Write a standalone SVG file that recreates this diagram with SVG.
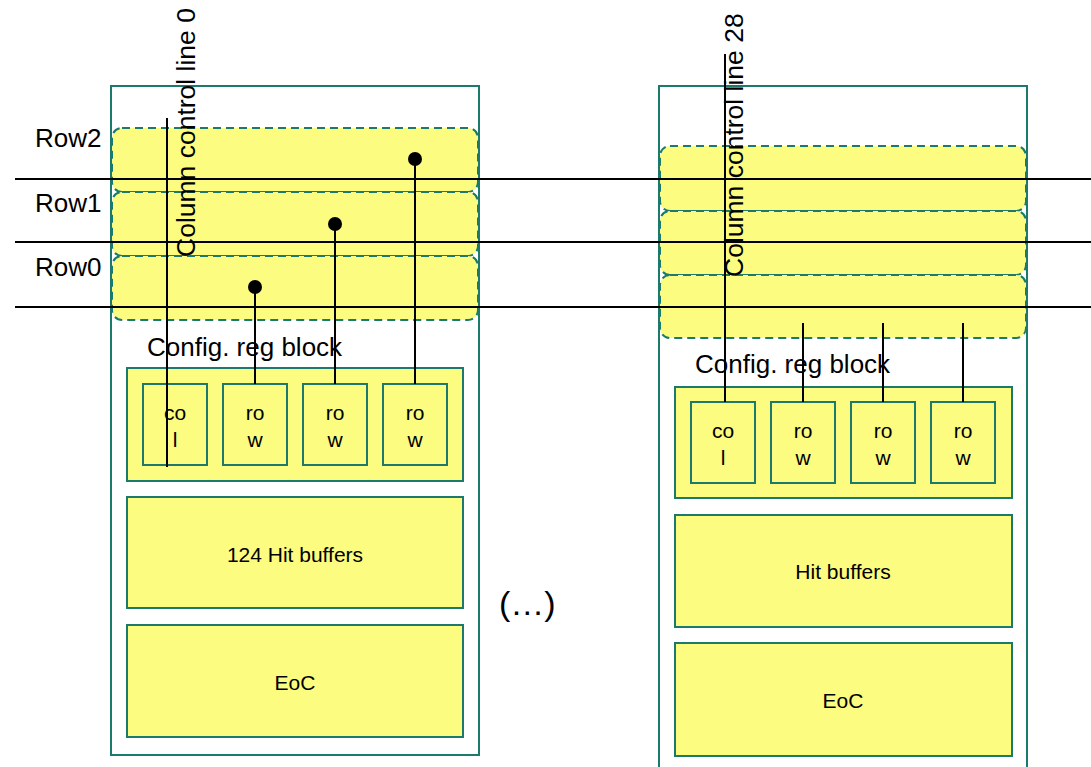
<svg xmlns="http://www.w3.org/2000/svg" width="1091" height="767" viewBox="0 0 1091 767">
  <style>
    .col { fill: none; stroke: #1b7a6c; stroke-width: 2; }
    .row { fill: #fcfc80; stroke: #1b7a6c; stroke-width: 2; stroke-dasharray: 8 5; }
    .blk { fill: #fcfc80; stroke: #1b7a6c; stroke-width: 2; }
    .wire { stroke: #000; stroke-width: 2; fill: none; }
    .t { font-family: "Liberation Sans", Arial, sans-serif; fill: #000; }
    .big { font-size: 26px; }
    .mid { font-size: 21px; }
  </style>
  <defs>
    <g id="regcell">
      <rect class="blk" x="0" y="0" width="64" height="81"/>
    </g>
  </defs>

  <!-- Column 0 -->
  <g id="column0">
    <rect class="col" x="111" y="86" width="368" height="669"/>
    <g id="c0-row2"><rect class="row" x="112" y="128" width="366" height="64" rx="10"/></g>
    <g id="c0-row1"><rect class="row" x="112" y="192" width="366" height="64" rx="10"/></g>
    <g id="c0-row0"><rect class="row" x="112" y="256" width="366" height="64" rx="10"/></g>
    <g id="c0-config">
      <text class="t big" x="147" y="356">Config. reg block</text>
      <rect class="blk" x="127" y="368" width="336" height="113"/>
      <g id="c0-col"><use href="#regcell" x="143" y="384"/>
        <text class="t mid" text-anchor="middle" x="175" y="420">co</text>
        <text class="t mid" text-anchor="middle" x="175" y="447">l</text></g>
      <g id="c0-rowreg0"><use href="#regcell" x="223" y="384"/>
        <text class="t mid" text-anchor="middle" x="255" y="420">ro</text>
        <text class="t mid" text-anchor="middle" x="255" y="447">w</text></g>
      <g id="c0-rowreg1"><use href="#regcell" x="303" y="384"/>
        <text class="t mid" text-anchor="middle" x="335" y="420">ro</text>
        <text class="t mid" text-anchor="middle" x="335" y="447">w</text></g>
      <g id="c0-rowreg2"><use href="#regcell" x="383" y="384"/>
        <text class="t mid" text-anchor="middle" x="415" y="420">ro</text>
        <text class="t mid" text-anchor="middle" x="415" y="447">w</text></g>
    </g>
    <g id="c0-hit">
      <rect class="blk" x="127" y="497" width="336" height="111"/>
      <text class="t mid" text-anchor="middle" x="295" y="562">124 Hit buffers</text>
    </g>
    <g id="c0-eoc">
      <rect class="blk" x="127" y="625" width="336" height="112"/>
      <text class="t mid" text-anchor="middle" x="295" y="690">EoC</text>
    </g>
  </g>

  <!-- Column 28 -->
  <g id="column28">
    <path class="col" d="M659 767 V86 H1027 V767"/>
    <g id="c28-row2"><rect class="row" x="660" y="146" width="366" height="65" rx="10"/></g>
    <g id="c28-row1"><rect class="row" x="660" y="211" width="366" height="64" rx="10"/></g>
    <g id="c28-row0"><rect class="row" x="660" y="275" width="366" height="63" rx="10"/></g>
    <g id="c28-config">
      <text class="t big" x="695" y="373">Config. reg block</text>
      <rect class="blk" x="675" y="387" width="337" height="111"/>
      <g id="c28-col"><use href="#regcell" x="691" y="402"/>
        <text class="t mid" text-anchor="middle" x="723" y="438">co</text>
        <text class="t mid" text-anchor="middle" x="723" y="465">l</text></g>
      <g id="c28-rowreg0"><use href="#regcell" x="771" y="402"/>
        <text class="t mid" text-anchor="middle" x="803" y="438">ro</text>
        <text class="t mid" text-anchor="middle" x="803" y="465">w</text></g>
      <g id="c28-rowreg1"><use href="#regcell" x="851" y="402"/>
        <text class="t mid" text-anchor="middle" x="883" y="438">ro</text>
        <text class="t mid" text-anchor="middle" x="883" y="465">w</text></g>
      <g id="c28-rowreg2"><use href="#regcell" x="931" y="402"/>
        <text class="t mid" text-anchor="middle" x="963" y="438">ro</text>
        <text class="t mid" text-anchor="middle" x="963" y="465">w</text></g>
    </g>
    <g id="c28-hit">
      <rect class="blk" x="675" y="515" width="337" height="112"/>
      <text class="t mid" text-anchor="middle" x="843" y="579">Hit buffers</text>
    </g>
    <g id="c28-eoc">
      <rect class="blk" x="675" y="643" width="337" height="113"/>
      <text class="t mid" text-anchor="middle" x="843" y="708">EoC</text>
    </g>
  </g>

  <!-- Row labels and ellipsis -->
  <g id="labels">
    <text class="t big" x="35" y="147">Row2</text>
    <text class="t big" x="35" y="212">Row1</text>
    <text class="t big" x="35" y="276">Row0</text>
    <text class="t" font-size="34" x="499" y="615">(…)</text>
  </g>

  <!-- Row and column control lines -->
  <g id="connectors">
    <line class="wire" x1="15" y1="179" x2="1091" y2="179"/>
    <line class="wire" x1="15" y1="242" x2="1091" y2="242"/>
    <line class="wire" x1="15" y1="307" x2="1091" y2="307"/>

    <text class="t" font-size="26.5" transform="translate(195,257) rotate(-90)">Column control line 0</text>
    <line class="wire" x1="167" y1="118" x2="167" y2="467"/>
    <line class="wire" x1="255" y1="287" x2="255" y2="384"/>
    <line class="wire" x1="335" y1="224" x2="335" y2="384"/>
    <line class="wire" x1="415" y1="159" x2="415" y2="384"/>
    <circle cx="255" cy="287" r="7"/>
    <circle cx="335" cy="224" r="7"/>
    <circle cx="415" cy="159" r="7"/>

    <text class="t" font-size="26.5" transform="translate(743,277) rotate(-90)">Column control line 28</text>
    <line class="wire" x1="725" y1="54" x2="725" y2="402"/>
    <line class="wire" x1="803" y1="323" x2="803" y2="402"/>
    <line class="wire" x1="883" y1="323" x2="883" y2="402"/>
    <line class="wire" x1="963" y1="323" x2="963" y2="402"/>
  </g>
</svg>
